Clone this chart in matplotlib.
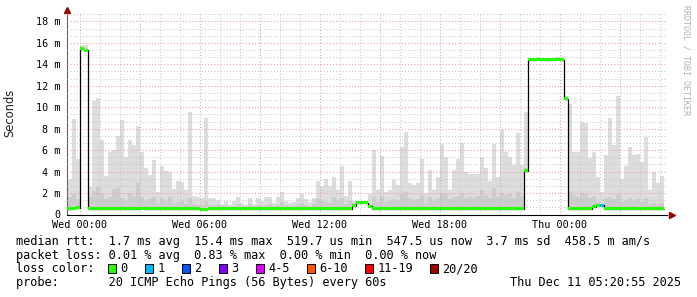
import numpy as np
import matplotlib.pyplot as plt
from matplotlib.ticker import MultipleLocator

# smokeping 30h view, 12 min bins, hours relative to Wed 00:00
bin_start = -0.8
bin_hours = 0.2

# highest ping per bin (ms) - light smoke
smoke_max = [
    3.3, 3.3, 8.9, 5.2, 15.8, 15.8, 2.6, 10.6, 10.9, 6.9,
    3.6, 5.8, 6.0, 7.3, 8.8, 5.4, 6.9, 6.5, 8.25, 5.8,
    4.3, 3.7, 5.1, 2.1, 4.5, 4.1, 4.0, 2.4, 3.1, 3.05,
    2.3, 9.55, 1.7, 1.6, 1.5, 8.96, 1.5, 1.5, 1.35, 1.0,
    1.3, 0.9, 1.3, 1.6, 1.1, 0.9, 1.5, 1.0, 1.5, 1.3,
    1.6, 1.6, 1.1, 1.6, 2.1, 1.3, 1.1, 1.2, 1.5, 1.9,
    1.4, 1.2, 1.5, 3.1, 2.7, 3.3, 2.7, 3.45, 2.3, 4.5,
    1.7, 3.1, 1.3, 1.3, 1.3, 1.2, 1.9, 6.0, 2.3, 5.45,
    2.1, 2.3, 3.2, 2.75, 6.26, 7.7, 2.9, 2.75, 2.9, 5.2,
    1.97, 4.15, 2.3, 3.5, 6.57, 5.4, 2.3, 4.15, 5.2, 6.7,
    4.0, 3.8, 3.8, 3.8, 5.4, 4.3, 3.1, 6.6, 3.45, 7.9,
    5.85, 5.4, 4.6, 7.6, 4.6, 9.55, 14.6, 14.6, 14.65, 14.6,
    14.6, 14.6, 14.6, 14.65, 14.6, 11.0, 10.3, 5.85, 5.85, 8.6,
    8.5, 5.3, 5.85, 3.5, 2.1, 5.5, 8.96, 6.5, 11.05, 3.3,
    4.5, 6.26, 5.55, 5.6, 4.9, 7.25, 2.3, 4.0, 2.9, 3.6,
]

# upper edge of the denser smoke (ms)
smoke_mid = [
    1.8, 1.6, 1.9, 1.4, 15.6, 15.5, 1.6, 2.2, 2.6, 2.0,
    1.4, 1.6, 2.4, 2.5, 1.5, 1.3, 2.0, 1.6, 2.9, 1.6,
    1.3, 1.4, 1.6, 1.1, 1.5, 1.3, 1.6, 1.1, 1.2, 1.3,
    1.0, 1.5, 1.0, 0.9, 0.9, 1.3, 0.9, 0.9, 0.9, 0.8,
    0.9, 0.8, 0.8, 1.0, 0.8, 0.8, 1.0, 0.8, 0.9, 0.8,
    0.9, 1.0, 0.8, 0.9, 1.2, 0.9, 0.8, 0.9, 1.0, 1.1,
    0.9, 0.8, 1.0, 1.4, 1.3, 1.2, 1.1, 1.6, 1.3, 1.5,
    1.0, 1.3, 1.1, 1.2, 1.2, 1.2, 1.0, 1.6, 1.2, 1.7,
    1.2, 1.3, 1.4, 1.3, 1.9, 2.1, 1.5, 1.3, 1.4, 1.8,
    1.1, 1.6, 1.3, 1.5, 2.0, 1.9, 1.4, 1.6, 1.7, 2.0,
    1.5, 1.6, 1.5, 1.7, 2.3, 1.8, 1.5, 2.5, 1.6, 2.0,
    1.8, 1.9, 1.5, 2.1, 1.7, 4.3, 14.5, 14.5, 14.5, 14.5,
    14.5, 14.5, 14.5, 14.5, 14.5, 10.9, 2.1, 1.8, 1.6, 2.0,
    1.9, 1.5, 1.7, 1.2, 1.0, 1.5, 1.6, 1.4, 1.9, 1.2,
    1.3, 1.5, 1.3, 1.4, 1.2, 1.5, 1.0, 1.1, 1.0, 1.1,
]

median_ms = [
    0.55, 0.55, 0.58, 0.65, 15.45, 15.3, 0.55, 0.55, 0.55, 0.55,
    0.55, 0.55, 0.55, 0.54, 0.55, 0.55, 0.55, 0.55, 0.55, 0.56,
    0.55, 0.55, 0.55, 0.55, 0.55, 0.55, 0.55, 0.55, 0.55, 0.55,
    0.55, 0.55, 0.52, 0.52, 0.5, 0.5, 0.52, 0.55, 0.55, 0.55,
    0.55, 0.55, 0.55, 0.55, 0.55, 0.55, 0.55, 0.55, 0.55, 0.55,
    0.55, 0.55, 0.55, 0.55, 0.55, 0.55, 0.55, 0.55, 0.55, 0.55,
    0.55, 0.55, 0.55, 0.55, 0.55, 0.55, 0.55, 0.55, 0.55, 0.55,
    0.55, 0.55, 0.8, 1.1, 1.1, 1.1, 0.75, 0.55, 0.55, 0.55,
    0.55, 0.55, 0.55, 0.55, 0.55, 0.55, 0.55, 0.55, 0.55, 0.55,
    0.55, 0.55, 0.55, 0.55, 0.55, 0.55, 0.55, 0.55, 0.55, 0.55,
    0.55, 0.55, 0.55, 0.55, 0.55, 0.55, 0.55, 0.55, 0.55, 0.55,
    0.55, 0.55, 0.55, 0.55, 0.55, 4.1, 14.4, 14.4, 14.45, 14.4,
    14.4, 14.4, 14.4, 14.45, 14.4, 10.8, 0.55, 0.55, 0.55, 0.55,
    0.55, 0.55, 0.72, 0.87, 0.87, 0.55, 0.55, 0.55, 0.55, 0.55,
    0.55, 0.55, 0.55, 0.55, 0.55, 0.55, 0.55, 0.55, 0.55, 0.55,
]

# lost pings out of 20 per bin
loss_pings = [
    0, 0, 0, 0, 0, 0, 0, 0, 0, 0,
    0, 0, 0, 0, 0, 0, 0, 0, 0, 0,
    0, 0, 0, 0, 0, 0, 0, 0, 0, 0,
    0, 0, 0, 0, 0, 0, 0, 0, 0, 0,
    0, 0, 0, 0, 0, 0, 0, 0, 0, 0,
    0, 0, 0, 0, 0, 0, 0, 0, 0, 0,
    0, 0, 0, 0, 0, 0, 0, 0, 0, 0,
    0, 0, 0, 0, 0, 0, 0, 0, 0, 0,
    0, 0, 0, 0, 0, 0, 0, 0, 0, 0,
    0, 0, 0, 0, 0, 0, 0, 0, 0, 0,
    0, 0, 0, 0, 0, 0, 0, 0, 0, 0,
    0, 0, 0, 0, 0, 0, 0, 0, 0, 0,
    0, 0, 0, 0, 0, 0, 0, 0, 0, 0,
    0, 0, 0, 0, 1, 0, 0, 0, 0, 0,
    0, 0, 0, 0, 0, 0, 0, 0, 0, 0,
]

loss_labels = ["0", "1", "2", "3", "4-5", "6-10", "11-19", "20/20"]
loss_colors = ["#26ff00", "#00b8ff", "#0059ff", "#7e00ff", "#dd00ff",
               "#ff5500", "#ff0000", "#a00000"]
loss_upper = [0, 1, 2, 3, 5, 10, 19, 20]

xtick_hours = [0, 3, 6, 9, 12, 15, 18, 21, 24, 27]
xtick_labels = ["Wed 00:00", "", "Wed 06:00", "", "Wed 12:00", "",
                "Wed 18:00", "", "Thu 00:00", ""]
ytick_ms = [0, 2, 4, 6, 8, 10, 12, 14, 16, 18]
ytick_labels = ["0", "2 m", "4 m", "6 m", "8 m", "10 m", "12 m", "14 m", "16 m", "18 m"]

legend_lines = [
    "median rtt:  1.7 ms avg  15.4 ms max  519.7 us min  547.5 us now  3.7 ms sd  458.5 m am/s",
    "packet loss: 0.01 % avg  0.83 % max  0.00 % min  0.00 % now",
    "loss color:",
    "probe:       20 ICMP Echo Pings (56 Bytes) every 60s",
]
stamp = "Thu Dec 11 05:20:55 2025"

MONO = "DejaVu Sans Mono"
W, H = 697, 297


def loss_color(n):
    for up, c in zip(loss_upper, loss_colors):
        if n <= up:
            return c
    return loss_colors[-1]


def main():
    smax = np.array(smoke_max)
    smid = np.array(smoke_mid)
    med = np.array(median_ms)
    t = bin_start + bin_hours * np.arange(len(med))
    edges = np.append(t, t[-1] + bin_hours)

    fig = plt.figure(figsize=(W / 100, H / 100), dpi=100)
    ax = fig.add_axes([67 / W, (H - 214.5) / H, 600 / W, 201.5 / H])

    ax.bar(t, smax - med, bottom=med, width=bin_hours, align="edge",
           color="#dddddd", linewidth=0, antialiased=False, zorder=1)
    ax.bar(t, np.clip(smid - med, 0, None), bottom=med, width=bin_hours, align="edge",
           color="#cdcdcd", linewidth=0, antialiased=False, zorder=1.5)
    ax.stairs(med, edges, baseline=None, color="black", linewidth=0.9, zorder=3)
    ax.bar(t, 0.28, bottom=med - 0.14, width=bin_hours, align="edge",
           color=[loss_color(n) for n in loss_pings], linewidth=0,
           antialiased=False, zorder=4)

    ax.set_xlim(-0.65, 29.35)
    ax.set_ylim(0, 18.78)
    ax.set_xticks(xtick_hours, xtick_labels)
    ax.set_yticks(ytick_ms, ytick_labels)
    ax.xaxis.set_minor_locator(MultipleLocator(1))
    ax.yaxis.set_minor_locator(MultipleLocator(2 / 3))
    ax.set_axisbelow(False)
    ax.grid(which="major", color="#e8a0a0", linestyle=(0, (1, 2)), linewidth=0.75)
    ax.grid(which="minor", color="#c8c8c8", linestyle=(0, (1, 2)), linewidth=0.75)
    ax.tick_params(which="both", length=0)
    ax.tick_params(axis="y", pad=5, labelsize=7.3)
    ax.tick_params(axis="x", pad=4, labelsize=7.3)
    for lab in ax.get_xticklabels() + ax.get_yticklabels():
        lab.set_family(MONO)
    for s in ("top", "right"):
        ax.spines[s].set_visible(False)
    ax.spines["left"].set_color("#606060")
    ax.spines["bottom"].set_color("black")
    ax.plot([0], [1.013], marker="^", markersize=4, color="#990000",
            transform=ax.transAxes, clip_on=False)
    ax.plot([1.008], [0], marker=">", markersize=4, color="#990000",
            transform=ax.transAxes, clip_on=False)

    fig.text(10 / W, 1 - 113 / H, "Seconds", rotation=90, ha="center", va="center",
             fontsize=8.3, color="#202020")
    fig.text(686 / W, 1 - 5 / H, "RRDTOOL / TOBI OETIKER", rotation=-90, ha="center",
             va="top", fontsize=6, family=MONO, color="#b0b0b0")

    rows_y = [241, 255.3, 268.7, 282.7]
    for line, y in zip(legend_lines, rows_y):
        fig.text(16 / W, 1 - y / H, line, family=MONO, fontsize=8.55, va="center")
    fig.text(681 / W, 1 - rows_y[3] / H, stamp, family=MONO, fontsize=8.55,
             va="center", ha="right")

    # loss colour swatches
    x = 108
    for lab, col in zip(loss_labels, loss_colors):
        fig.patches.append(plt.Rectangle((x / W, 1 - (rows_y[2] + 4.5) / H), 8 / W, 9 / H,
                                         transform=fig.transFigure, facecolor=col,
                                         edgecolor="black", linewidth=0.7))
        tx = x + 12.5
        fig.text(tx / W, 1 - rows_y[2] / H, lab, family=MONO, fontsize=8.55, va="center")
        x = tx + len(lab) * 7 + 17.5

    fig.savefig("out.png", dpi=100)


if __name__ == "__main__":
    main()
